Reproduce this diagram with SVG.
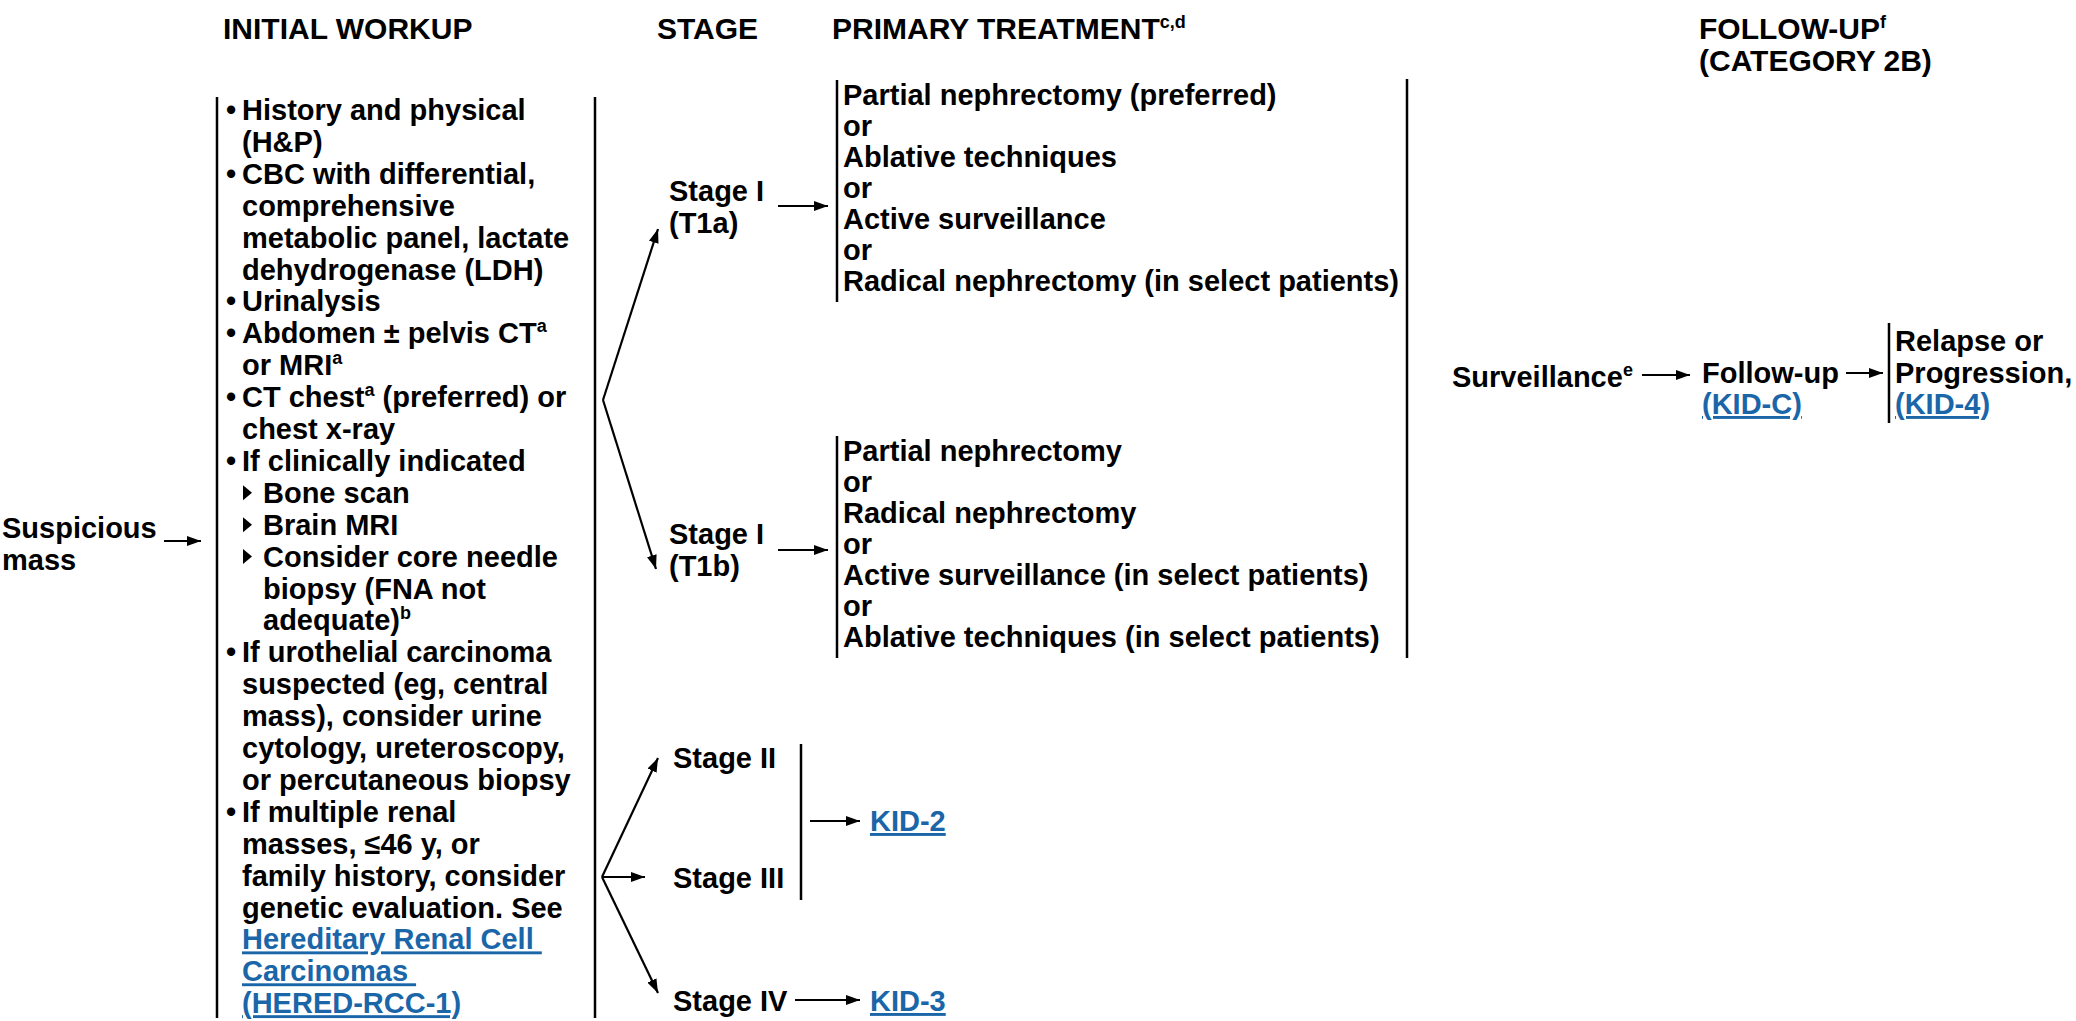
<svg xmlns="http://www.w3.org/2000/svg" width="2076" height="1021" viewBox="0 0 2076 1021">
<defs>
<style>
text{font-family:"Liberation Sans",Arial,sans-serif;font-weight:bold;font-size:29px;fill:#000}
.hd{font-size:30px}
.sup{font-size:18px}
.lnk{fill:#1a66a8;text-decoration:underline}
.bar{stroke:#000;stroke-width:2.5;fill:none}
.arr{stroke:#000;stroke-width:2.2;fill:none;marker-end:url(#ah)}
</style>
<marker id="ah" viewBox="0 0 14 10" refX="14" refY="5" markerWidth="14" markerHeight="10" orient="auto" markerUnits="userSpaceOnUse"><path d="M0,0 L14,5 L0,10 z" fill="#000"/></marker>
</defs>
<rect width="2076" height="1021" fill="#fff"/>

<g id="headers">
<text class="hd" x="223" y="39">INITIAL WORKUP</text>
<text class="hd" x="657" y="39">STAGE</text>
<text class="hd" x="832" y="39">PRIMARY TREATMENT<tspan class="sup" dy="-11">c,d</tspan></text>
<text class="hd" x="1699" y="39">FOLLOW-UP<tspan class="sup" dy="-11">f</tspan></text>
<text class="hd" x="1699" y="71">(CATEGORY 2B)</text>
</g>

<g id="suspicious-mass">
<text x="2" y="538">Suspicious</text>
<text x="2" y="570">mass</text>
</g>

<g id="initial-workup">
<line class="bar" x1="217" y1="97" x2="217" y2="1018"/>
<line class="bar" x1="595" y1="97" x2="595" y2="1018"/>
<text x="226" y="120">•</text><text x="242" y="120">History and physical</text>
<text x="242" y="151.9">(H&amp;P)</text>
<text x="226" y="183.8">•</text><text x="242" y="183.8">CBC with differential,</text>
<text x="242" y="215.7">comprehensive</text>
<text x="242" y="247.6">metabolic panel, lactate</text>
<text x="242" y="279.5">dehydrogenase (LDH)</text>
<text x="226" y="311.4">•</text><text x="242" y="311.4">Urinalysis</text>
<text x="226" y="343.3">•</text><text x="242" y="343.3">Abdomen ± pelvis CT<tspan class="sup" dy="-11">a</tspan></text>
<text x="242" y="375.2">or MRI<tspan class="sup" dy="-11">a</tspan></text>
<text x="226" y="407.1">•</text><text x="242" y="407.1">CT chest<tspan class="sup" dy="-11">a</tspan><tspan dy="11"> (preferred) or</tspan></text>
<text x="242" y="439">chest x-ray</text>
<text x="226" y="470.9">•</text><text x="242" y="470.9">If clinically indicated</text>
<polygon points="243,485.3 252,492.8 243,500.3" fill="#000"/><text x="263" y="502.8">Bone scan</text>
<polygon points="243,517.2 252,524.7 243,532.2" fill="#000"/><text x="263" y="534.7">Brain MRI</text>
<polygon points="243,549.1 252,556.6 243,564.1" fill="#000"/><text x="263" y="566.6">Consider core needle</text>
<text x="263" y="598.5">biopsy (FNA not</text>
<text x="263" y="630.4">adequate)<tspan class="sup" dy="-11">b</tspan></text>
<text x="226" y="662.3">•</text><text x="242" y="662.3">If urothelial carcinoma</text>
<text x="242" y="694.2">suspected (eg, central</text>
<text x="242" y="726.1">mass), consider urine</text>
<text x="242" y="758">cytology, ureteroscopy,</text>
<text x="242" y="789.9">or percutaneous biopsy</text>
<text x="226" y="821.8">•</text><text x="242" y="821.8">If multiple renal</text>
<text x="242" y="853.7">masses, ≤46 y, or</text>
<text x="242" y="885.6">family history, consider</text>
<text x="242" y="917.5">genetic evaluation. See</text>
<text class="lnk" x="242" y="949.4" xml:space="preserve">Hereditary Renal Cell </text>
<text class="lnk" x="242" y="981.3" xml:space="preserve">Carcinomas </text>
<text class="lnk" x="242" y="1013.2">(HERED-RCC-1)</text>
</g>

<g id="stage-t1a">
<text x="669" y="201">Stage I</text>
<text x="669" y="233">(T1a)</text>
</g>
<g id="stage-t1b">
<text x="669" y="544">Stage I</text>
<text x="669" y="576">(T1b)</text>
</g>
<g id="stage-ii-iii">
<text x="673" y="768">Stage II</text>
<text x="673" y="888">Stage III</text>
<line class="bar" x1="801" y1="744" x2="801" y2="900"/>
</g>
<g id="stage-iv">
<text x="673" y="1011">Stage IV</text>
</g>

<g id="treatment-t1a">
<line class="bar" x1="837" y1="80" x2="837" y2="302"/>
<text x="843" y="105">Partial nephrectomy (preferred)</text>
<text x="843" y="136">or</text>
<text x="843" y="167">Ablative techniques</text>
<text x="843" y="198">or</text>
<text x="843" y="229">Active surveillance</text>
<text x="843" y="260">or</text>
<text x="843" y="291">Radical nephrectomy (in select patients)</text>
</g>
<g id="treatment-t1b">
<line class="bar" x1="837" y1="436" x2="837" y2="658"/>
<text x="843" y="461">Partial nephrectomy</text>
<text x="843" y="492">or</text>
<text x="843" y="523">Radical nephrectomy</text>
<text x="843" y="554">or</text>
<text x="843" y="585">Active surveillance (in select patients)</text>
<text x="843" y="616">or</text>
<text x="843" y="647">Ablative techniques (in select patients)</text>
</g>
<g id="treatment-bracket">
<line class="bar" x1="1407" y1="79" x2="1407" y2="658"/>
</g>

<g id="kid-2"><text class="lnk" x="870" y="831">KID-2</text></g>
<g id="kid-3"><text class="lnk" x="870" y="1011">KID-3</text></g>

<g id="surveillance">
<text x="1452" y="387">Surveillance<tspan class="sup" dy="-11">e</tspan></text>
</g>
<g id="follow-up">
<text x="1702" y="383">Follow-up</text>
<text class="lnk" x="1702" y="414">(KID-C)</text>
</g>
<g id="relapse">
<line class="bar" x1="1889" y1="323" x2="1889" y2="423"/>
<text x="1895" y="351">Relapse or</text>
<text x="1895" y="383">Progression,</text>
<text class="lnk" x="1895" y="414">(KID-4)</text>
</g>

<g id="connectors">
<line class="arr" x1="164" y1="541" x2="201" y2="541"/>
<polyline class="arr" points="603,400 658,229"/>
<polyline class="arr" points="603,400 656,569"/>
<polyline class="arr" points="602,877 658,758"/>
<line class="arr" x1="602" y1="877" x2="645" y2="877"/>
<polyline class="arr" points="602,877 658,993"/>
<line class="arr" x1="778" y1="206" x2="828" y2="206"/>
<line class="arr" x1="778" y1="550" x2="828" y2="550"/>
<line class="arr" x1="810" y1="821" x2="860" y2="821"/>
<line class="arr" x1="795" y1="1000" x2="860" y2="1000"/>
<line class="arr" x1="1642" y1="375" x2="1690" y2="375"/>
<line class="arr" x1="1846" y1="373" x2="1883" y2="373"/>
</g>
</svg>
